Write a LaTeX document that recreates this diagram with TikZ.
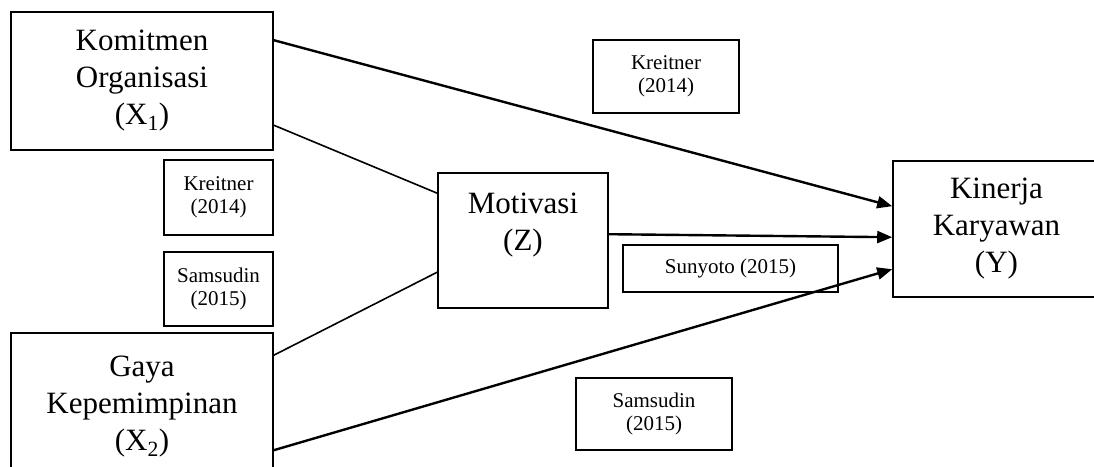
\documentclass[tikz,border=0pt]{standalone}
\usepackage{fontspec}
\setmainfont{Liberation Serif}
\usetikzlibrary{arrows.meta}
\begin{document}
\begin{tikzpicture}[x=1pt,y=1pt,
  bigbox/.style={draw, line width=1.6pt, inner sep=0pt, align=center, font=\fontsize{31}{37}\selectfont},
  refbox/.style={draw, line width=1.5pt, inner sep=0pt, align=center, font=\fontsize{21}{23}\selectfont},
  bigtext/.style={inner sep=0pt, align=center, font=\fontsize{31}{37}\selectfont},
  arr/.style={line width=2.4pt, -{Triangle[length=15pt,width=12pt]}},
  thin/.style={line width=1.6pt}]
\useasboundingbox (0,0) rectangle (1094,-466);
\begin{scope}
\clip (0,0) rectangle (1094,-466);
\node[bigbox, minimum width=262pt, minimum height=138pt] (X1) at (142,-81) {Komitmen\\Organisasi\\(X\textsubscript{1})};
\node[bigbox, minimum width=262pt, minimum height=147pt] (X2) at (142,-406.5) {Gaya\\Kepemimpinan\\(X\textsubscript{2})};
\node[refbox, minimum width=109pt, minimum height=75pt] (R1) at (218.5,-197.5) {Kreitner\\(2014)};
\node[refbox, minimum width=109pt, minimum height=74pt] (R2) at (218.5,-289) {Samsudin\\(2015)};
\node[draw, line width=1.6pt, minimum width=170pt, minimum height=135pt, inner sep=0pt] (Z) at (523,-240.5) {};
\node[bigtext] (Zt) at (523,-225) {Motivasi\\(Z)};
\node[bigbox, minimum width=207pt, minimum height=136pt] (Y) at (996.5,-229) {Kinerja\\Karyawan\\(Y)};
\node[refbox, minimum width=146pt, minimum height=73pt] (R3) at (666,-76.5) {Kreitner\\(2014)};
\node[refbox, minimum width=215pt, minimum height=47pt] (R4) at (730.5,-268.5) {Sunyoto (2015)};
\node[refbox, minimum width=156pt, minimum height=72pt] (R5) at (654,-414) {Samsudin\\(2015)};
\draw[arr] ([yshift=-29pt]X1.north east) -- ([yshift=-46pt]Y.north west);
\draw[arr] ([yshift=-62pt]Z.north east) -- ([yshift=-77pt]Y.north west);
\draw[arr] ([yshift=-118pt]X2.north east) -- ([yshift=-109pt]Y.north west);
\draw[thin] ([yshift=-114pt]X1.north east) -- ([yshift=-21pt]Z.north west);
\draw[thin] ([yshift=-23pt]X2.north east) -- ([yshift=-100pt]Z.north west);
\end{scope}
\end{tikzpicture}
\end{document}
